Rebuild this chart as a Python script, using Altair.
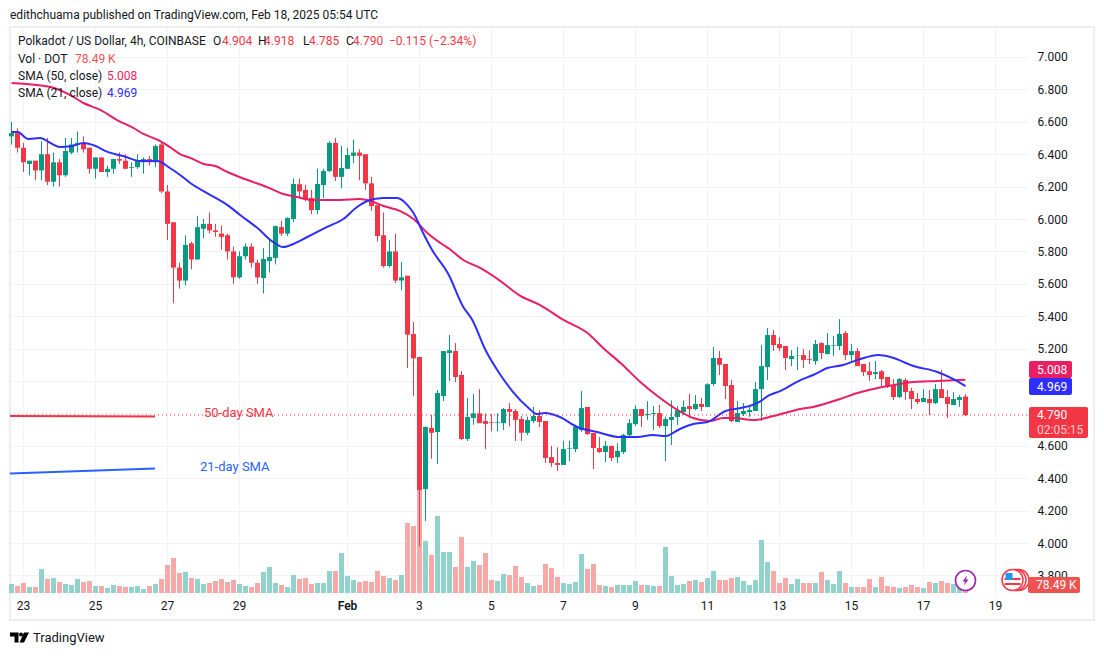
import altair as alt
import pandas as pd

FONT = "Roboto"
INK = "#131722"
UP = "#089981"
DOWN = "#f23645"
VOL_UP = "#92d2cc"
VOL_DOWN = "#f7a9a7"
PINK = "#e91e63"
BLUE = "#2e2eff"
GRID = "#f0f3fa"

open_ = [6.51,6.53,6.44,6.34,6.36,6.30,6.40,6.23,6.35,6.27,
         6.41,6.46,6.47,6.44,6.31,6.38,6.29,6.31,6.37,6.36,
         6.315,6.32,6.35,6.37,6.35,6.46,6.17,5.98,5.70,5.62,
         5.85,5.75,5.94,5.97,5.93,5.91,5.90,5.80,5.64,5.77,
         5.83,5.73,5.636,5.74,5.76,5.95,5.91,6.00,6.215,6.18,
         6.13,6.055,6.21,6.296,6.47,6.26,6.31,6.39,6.41,6.40,
         6.22,6.085,5.90,5.71,5.80,5.62,5.65,5.29,5.148,4.333,
         4.71,4.685,4.907,5.173,5.185,5.037,4.642,4.772,4.80,4.753,
         4.747,4.743,4.74,4.827,4.815,4.765,4.68,4.753,4.784,4.753,
         4.53,4.494,4.482,4.582,4.58,4.697,4.84,4.679,4.586,4.562,
         4.60,4.53,4.562,4.666,4.734,4.827,4.79,4.796,4.802,4.722,
         4.76,4.778,4.808,4.845,4.827,4.858,4.84,4.981,5.142,5.105,
         4.975,4.747,4.796,4.808,4.815,4.95,5.086,5.284,5.228,5.216,
         5.135,5.158,5.16,5.135,5.123,5.234,5.166,5.218,5.216,5.296,
         5.16,5.185,5.105,5.06,5.043,5.06,5.025,4.975,4.901,5.006,
         4.938,4.889,4.87,4.889,4.864,4.95,4.901,4.852,4.883,4.904]
high = [6.60,6.56,6.47,6.36,6.36,6.48,6.50,6.41,6.37,6.50,
        6.50,6.54,6.51,6.44,6.38,6.38,6.33,6.37,6.41,6.40,
        6.35,6.40,6.38,6.39,6.46,6.48,6.21,5.98,5.73,5.90,
        5.86,6.02,6.00,6.04,5.97,5.96,5.91,5.83,5.80,5.85,
        5.85,5.75,5.82,5.87,5.96,5.99,6.01,6.25,6.25,6.21,
        6.18,6.31,6.31,6.48,6.50,6.45,6.44,6.49,6.43,6.40,
        6.26,6.085,6.04,5.87,5.91,5.735,5.65,5.364,5.148,4.72,
        4.79,4.944,5.185,5.284,5.234,5.062,4.895,4.92,4.95,4.80,
        4.796,4.80,4.833,4.864,4.827,4.784,4.78,4.84,4.82,4.753,
        4.60,4.59,4.63,4.63,4.73,4.938,4.84,4.679,4.654,4.63,
        4.60,4.617,4.673,4.765,4.85,4.827,4.876,4.845,4.852,4.78,
        4.88,4.845,4.88,4.92,4.913,4.895,4.987,5.21,5.185,5.105,
        5.006,4.876,4.864,4.845,4.994,5.222,5.327,5.315,5.271,5.216,
        5.19,5.21,5.197,5.19,5.253,5.24,5.296,5.278,5.382,5.308,
        5.228,5.203,5.105,5.117,5.123,5.068,5.025,5.012,5.018,5.018,
        4.957,4.926,4.95,4.944,4.981,5.068,4.944,4.932,4.913,4.918]
low = [6.46,6.41,6.29,6.27,6.24,6.24,6.21,6.20,6.20,6.26,
       6.40,6.41,6.41,6.28,6.25,6.29,6.26,6.28,6.34,6.31,
       6.26,6.31,6.28,6.33,6.32,6.16,5.87,5.48,5.57,5.59,
       5.69,5.75,5.88,5.91,5.89,5.81,5.75,5.60,5.63,5.75,
       5.70,5.60,5.54,5.67,5.72,5.895,5.895,5.98,6.135,6.11,
       6.03,6.03,6.13,6.29,6.235,6.19,6.31,6.345,6.24,6.18,
       6.05,5.86,5.70,5.70,5.605,5.56,5.08,4.907,3.98,4.136,
       4.52,4.488,4.876,5.00,4.994,4.636,4.63,4.73,4.74,4.58,
       4.69,4.69,4.697,4.72,4.63,4.63,4.667,4.74,4.716,4.494,
       4.47,4.445,4.482,4.506,4.56,4.685,4.667,4.457,4.556,4.50,
       4.506,4.494,4.55,4.654,4.722,4.716,4.76,4.697,4.71,4.506,
       4.605,4.728,4.79,4.77,4.82,4.815,4.84,4.969,5.037,4.889,
       4.747,4.747,4.784,4.778,4.815,4.753,5.006,5.185,5.185,5.068,
       5.092,5.068,5.08,5.105,5.10,5.135,5.166,5.154,5.19,5.13,
       5.117,5.092,5.03,5.00,5.012,4.969,4.957,4.883,4.895,4.883,
       4.827,4.858,4.87,4.79,4.858,4.895,4.771,4.852,4.84,4.785]
close = [6.53,6.44,6.35,6.36,6.30,6.40,6.23,6.35,6.27,6.42,
         6.46,6.47,6.43,6.31,6.38,6.29,6.31,6.37,6.36,6.31,
         6.32,6.36,6.37,6.35,6.45,6.17,5.97,5.70,5.62,5.84,
         5.75,5.95,5.97,5.93,5.92,5.89,5.80,5.64,5.77,5.83,
         5.73,5.64,5.753,5.765,5.956,5.91,6.006,6.216,6.17,6.12,
         6.055,6.216,6.296,6.47,6.26,6.315,6.395,6.41,6.39,6.22,
         6.08,5.895,5.71,5.80,5.62,5.64,5.286,5.14,4.327,4.716,
         4.68,4.926,5.185,5.19,5.025,4.642,4.778,4.80,4.74,4.735,
         4.743,4.747,4.827,4.81,4.76,4.68,4.76,4.784,4.747,4.525,
         4.494,4.482,4.58,4.586,4.716,4.833,4.673,4.586,4.562,4.60,
         4.525,4.568,4.667,4.74,4.827,4.784,4.796,4.802,4.722,4.765,
         4.778,4.82,4.84,4.827,4.858,4.84,4.98,5.142,5.10,4.969,
         4.753,4.802,4.815,4.821,4.95,5.092,5.284,5.222,5.203,5.142,
         5.154,5.16,5.13,5.13,5.228,5.173,5.222,5.222,5.29,5.16,
         5.185,5.092,5.055,5.037,5.055,5.012,4.969,4.901,5.012,4.932,
         4.889,4.87,4.895,4.864,4.95,4.895,4.858,4.889,4.901,4.79]
volume = [90,70,100,60,60,240,140,150,110,90,
          80,140,110,120,70,70,50,80,70,60,
          60,70,40,70,90,140,280,350,200,210,
          150,140,90,100,120,140,110,130,90,70,
          60,100,210,260,100,80,60,180,140,150,
          90,100,100,220,220,400,170,130,110,120,
          110,220,170,150,130,180,700,670,1100,520,
          380,770,410,410,260,560,260,320,280,400,
          130,120,190,180,270,160,100,70,80,290,
          250,160,100,90,110,390,240,290,80,70,
          60,80,80,80,120,80,80,70,70,460,
          170,80,90,120,130,110,150,220,130,130,
          150,160,120,80,130,530,310,220,100,150,
          90,140,100,100,100,210,130,90,220,100,
          60,60,60,140,60,160,70,60,50,60,
          80,60,50,110,100,120,100,90,70,78.49]

sma50_i = [0,6.5,9.8,12,14.8,17.6,20.3,22,24.8,26.4,28.1,29.8,32,34,36,38,40.3,43,45.3,47.6,50.3,54.8,58,59.8,62,64.8,67,69.3,71.5,73,75.3,78.1,81.5,84.8,88.1,92,96,98.6,101.5,104.8,108.1,111,113.6,116.4,118.6,120.3,123.6,127,131.5,133.6,138.1,141,143.6,147,150.3,154.3,159]
sma50_v = [6.84,6.815,6.765,6.716,6.673,6.611,6.562,6.525,6.481,6.444,6.401,6.377,6.34,6.327,6.29,6.259,6.228,6.191,6.154,6.136,6.117,6.117,6.123,6.111,6.08,6.049,6.0,5.914,5.852,5.815,5.747,5.698,5.617,5.525,5.469,5.377,5.296,5.204,5.111,4.994,4.895,4.821,4.772,4.753,4.772,4.772,4.759,4.784,4.827,4.84,4.889,4.926,4.951,4.975,4.994,5.0,5.008]
sma21_i = [0,1,2.8,4.8,6.5,8.1,10.1,12,14,16,18.6,21.5,24.3,26.4,28.1,29.8,32.6,36,38.1,41,43.6,45.3,47,49.3,52.6,55.3,57.6,59.3,62,64.3,66,67,68.6,70.1,72.8,75.3,76.8,79,81.5,83.6,86,87.6,88.9,91.4,94.3,97.6,101.5,104.3,106.9,108.9,111.4,113.6,116,119,121.5,124.3,126.4,128.1,131.5,133.6,136,138.6,141.5,144.5,146.5,150.3,154.3,157,159]
sma21_v = [6.537,6.537,6.494,6.5,6.469,6.444,6.451,6.469,6.451,6.414,6.389,6.358,6.358,6.315,6.272,6.222,6.16,6.086,6.025,5.944,5.858,5.827,5.846,5.889,5.951,6.0,6.074,6.111,6.13,6.13,6.086,6.037,5.914,5.809,5.66,5.457,5.377,5.191,5.037,4.932,4.84,4.796,4.802,4.778,4.716,4.685,4.654,4.654,4.667,4.66,4.704,4.735,4.747,4.815,4.833,4.864,4.914,4.938,5.006,5.037,5.08,5.099,5.136,5.16,5.148,5.093,5.056,5.012,4.969]

tick_i = [2,14,26,38,56,68,80,92,104,116,128,140,152,164]
tick_text = ["23","25","27","29","Feb","3","5","7","9","11","13","15","17","19"]
price_ticks = [3.8,4.0,4.2,4.4,4.6,4.8,5.0,5.2,5.4,5.6,5.8,6.0,6.2,6.4,6.6,6.8,7.0]
last_price = [4.79]

df = pd.DataFrame({"i": range(len(open_)), "open": open_, "high": high, "low": low, "close": close, "vol": volume})
df["up"] = df["close"] >= df["open"]
s50 = pd.DataFrame({"i": sma50_i, "v": sma50_v})
s21 = pd.DataFrame({"i": sma21_i, "v": sma21_v})
ticks = pd.DataFrame({"i": tick_i, "t": tick_text})

W, H = 1018, 568
OX, OY = 10, 28
xscale = alt.Scale(domain=[-0.25, 169.4167], nice=False, zero=False, padding=0)
pscale = alt.Scale(domain=[3.673, 7.179], nice=False, zero=False)
vscale = alt.Scale(domain=[-30, 5650], nice=False, zero=False)
colup = alt.Scale(domain=[True, False], range=[UP, DOWN])
volcol = alt.Scale(domain=[True, False], range=[VOL_UP, VOL_DOWN])

Xn = alt.X("i:Q", scale=xscale, title=None, axis=None)
Yaxis = alt.Axis(values=price_ticks, orient="right", grid=True, gridColor=GRID, gridWidth=1,
                 labelExpr="datum.value===5||datum.value===4.8?'':format(datum.value,'.3f')",
                 domain=False, ticks=False, labelPadding=9, labelFontSize=12, labelColor=INK, labelFont=FONT)


def px(v):
    return alt.value(v - OX)


def py(v):
    return alt.value(v - OY)


def label(text, x, y, color=INK, size=12, align="left", weight=400):
    return alt.Chart().mark_text(font=FONT, fontSize=size, align=align, baseline="middle", color=color,
                                 fontWeight=weight).encode(x=px(x), y=py(y), text=alt.value(text))


def tag(x0, x1, y0, y1, color):
    return alt.Chart().mark_rect(color=color, cornerRadius=2).encode(x=px(x0), x2=px(x1), y=py(y0), y2=py(y1))


def glyph(path, x, y, fill=None, stroke=None, sw=0, size=4):
    opts = {"shape": path, "size": size, "strokeWidth": sw, "opacity": 1}
    if fill:
        opts.update(filled=True, fill=fill)
    else:
        opts.update(filled=False, fill="white")
    if stroke:
        opts.update(stroke=stroke)
    return alt.Chart().mark_point(**opts).encode(x=px(x), y=py(y))


frame = alt.Chart().mark_rect(fillOpacity=0, stroke="#eceef2", strokeWidth=2).encode(
    x=px(10), x2=px(1094), y=py(27), y2=py(620))

vgrid = alt.Chart(ticks).mark_rule(color=GRID, strokeWidth=1).encode(x=Xn, y=alt.value(0), y2=alt.value(H + 1))
tick_plain = alt.Chart(ticks).transform_filter("datum.t !== 'Feb'").mark_text(
    font=FONT, fontSize=12, color=INK, baseline="middle").encode(x=Xn, y=py(606), text="t:N")
tick_bold = alt.Chart(ticks).transform_filter("datum.t === 'Feb'").mark_text(
    font=FONT, fontSize=12, color=INK, baseline="middle", fontWeight=600).encode(x=Xn, y=py(606), text="t:N")

vol = alt.Chart(df).mark_bar(size=5).encode(
    x=Xn,
    y=alt.Y("vol:Q", scale=vscale, axis=None, title=None),
    y2=alt.datum(0),
    color=alt.Color("up:N", scale=volcol, legend=None))

wick = alt.Chart(df).mark_rule(strokeWidth=1).encode(
    x=Xn,
    y=alt.Y("low:Q", scale=pscale, axis=Yaxis, title=None),
    y2="high:Q",
    color=alt.Color("up:N", scale=colup, legend=None))

body = alt.Chart(df).mark_bar(size=5).encode(
    x=Xn,
    y=alt.Y("open:Q", scale=pscale, axis=None, title=None),
    y2="close:Q",
    color=alt.Color("up:N", scale=colup, legend=None))

line50 = alt.Chart(s50).mark_line(color=PINK, strokeWidth=2, interpolate="monotone").encode(
    x=Xn, y=alt.Y("v:Q", scale=pscale, axis=None, title=None))
line21 = alt.Chart(s21).mark_line(color=BLUE, strokeWidth=2, interpolate="monotone").encode(
    x=Xn, y=alt.Y("v:Q", scale=pscale, axis=None, title=None))

dotted = alt.Chart(pd.DataFrame({"p": last_price})).mark_rule(color=DOWN, strokeWidth=1, strokeDash=[1, 3]).encode(
    y=alt.Y("p:Q", scale=pscale, axis=None, title=None), x=alt.value(0), x2=alt.value(W))

lead50 = alt.Chart().mark_rule(color=DOWN, strokeWidth=2).encode(x=px(10), x2=px(155), y=py(416), y2=py(416.5))
lead21 = alt.Chart().mark_rule(color="#2962ff", strokeWidth=2).encode(x=px(10), x2=px(155), y=py(473.5), y2=py(468.5))

T_BOLT = "M1.5,-5 L-3,1 H-0.5 L-1.5,5 L3,-1 H0.5 Z"
CIRCLE = "M-9,0 A9,9 0 1,0 9,0 A9,9 0 1,0 -9,0 Z"
LOGO_T = "M-9.5,-5 H-1 V5 H-5 V-1 H-9.5 Z"
LOGO_DOT = "M-0.5,-3 A2,2 0 1,0 3.5,-3 A2,2 0 1,0 -0.5,-3 Z"
LOGO_V = "M9.5,-5 L4.5,5 H0 L4.5,-5 Z"
STRIPES = "M-8,-2 H8 V0 H-8 Z M-8,3 H8 V5 H-8 Z"
CANTON = "M-7,-7 H0 V0 H-7 Z"

layers = [
    frame, vgrid, tick_plain, tick_bold,
    vol, wick, body, line50, line21, dotted, lead50, lead21,
    label("50-day SMA", 204, 413, DOWN, 13),
    label("21-day SMA", 200, 467, "#2962ff", 13),
    label("edithchuama published on TradingView.com, Feb 18, 2025 05:54 UTC", 10, 15, INK, 12),
    label("Polkadot / US Dollar, 4h, COINBASE", 18, 41, INK, 12),
    label("O", 213, 41), label("4.904", 222, 41, DOWN),
    label("H", 258, 41), label("4.918", 264, 41, DOWN),
    label("L", 303, 41), label("4.785", 309, 41, DOWN),
    label("C", 346, 41), label("4.790", 353, 41, DOWN),
    label("\u22120.115 (\u22122.34%)", 389, 41, DOWN),
    label("Vol \u00b7 DOT", 18, 59), label("78.49 K", 75, 59, "#ef5350"),
    label("SMA (50, close)", 18, 76), label("5.008", 107, 76, PINK),
    label("SMA (21, close)", 18, 93), label("4.969", 107, 93, BLUE),
    tag(1029, 1072, 361, 378, PINK), label("5.008", 1037, 369.5, "white"),
    tag(1029, 1072, 378, 395, BLUE), label("4.969", 1037, 386.5, "white"),
    tag(1029, 1088, 407, 438, DOWN), label("4.790", 1037, 415, "white"), label("02:05:15", 1037, 430, "#fbc8cc"),
    glyph(CIRCLE, 965.5, 580.5, None, "#9c27b0", 1.6, size=4.94),
    glyph(T_BOLT, 965.5, 580.5, "#9c27b0"),
    glyph(CIRCLE, 1018.5, 580, None, DOWN, 1.5, size=5.44),
    glyph(CIRCLE, 1015.5, 580, None, DOWN, 1.5, size=5.44),
    glyph(CIRCLE, 1012.5, 580, None, DOWN, 1.5, size=5.44),
    glyph(STRIPES, 1012.5, 580, DOWN),
    glyph(CANTON, 1012.5, 580, "#2196f3"),
    tag(1028, 1080, 577, 593, "#ef5350"), label("78.49 K", 1036, 585, "white"),
    glyph(LOGO_T, 19.5, 637.5, "#000000"),
    glyph(LOGO_DOT, 19.5, 637.5, "#000000"),
    glyph(LOGO_V, 19.5, 637.5, "#000000"),
    label("TradingView", 33, 638, INK, 13),
]

chart = alt.layer(*layers).resolve_scale(y="independent", color="independent").properties(
    width=W, height=H, autosize="none",
    padding={"left": OX - 8, "top": OY - 8, "right": 68, "bottom": 50},
    background="white",
).configure_view(stroke=None)

chart.save("out.html", embed_options={"renderer": "svg", "actions": False})
